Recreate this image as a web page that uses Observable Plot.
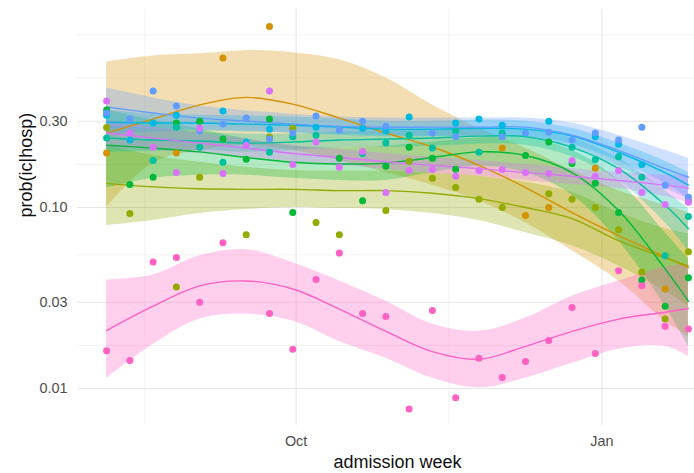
<!DOCTYPE html>
<html><head><meta charset="utf-8">
<script src="https://cdn.jsdelivr.net/npm/d3@7"></script>
<script src="https://cdn.jsdelivr.net/npm/@observablehq/plot@0.6"></script>
<style>
html,body{margin:0;padding:0;background:#fff;overflow:hidden;}
#chart{width:694px;height:473px;overflow:hidden;}
</style></head><body><div id="chart"></div>
<script>
// admission weeks (points)
const weekDates = ["2020-08-05","2020-08-12","2020-08-19","2020-08-26","2020-09-02","2020-09-09","2020-09-16","2020-09-23","2020-09-30","2020-10-07","2020-10-14","2020-10-21","2020-10-28","2020-11-04","2020-11-11","2020-11-18","2020-11-25","2020-12-02","2020-12-09","2020-12-16","2020-12-23","2020-12-30","2021-01-06","2021-01-13","2021-01-20","2021-01-27"];
// dates at which the smooth fit and its band are given
const fitDates = ["2020-08-05","2020-08-19","2020-09-02","2020-09-16","2020-09-30","2020-10-14","2020-10-28","2020-11-11","2020-11-25","2020-12-09","2020-12-23","2021-01-06","2021-01-20","2021-01-27"];

const seriesNames = ["A","B","C","D","E","F","G","H"];
const seriesColors = ["#D39200","#93AA00","#00BA38","#00C19F","#00B9E3","#619CFF","#DB72FB","#FF61C3"];

// observed weekly proportions
const ptsA = [0.2,null,null,0.2,null,0.67,null,1.0,null,null,null,null,null,null,null,null,null,0.213,0.0903,0.1,null,0.165,null,null,0.0355,null];
const ptsB = [0.277,0.0926,null,0.0364,0.147,null,0.0708,0.245,0.274,0.0826,0.0708,null,0.0962,0.18,0.145,0.129,0.111,0.1,null,0.119,0.111,0.1,0.0755,0.0441,0.0242,0.0569];
const ptsC = [0.346,0.134,0.147,0.293,0.300,0.239,0.185,0.308,0.0938,null,0.187,0.109,0.169,0.215,0.187,0.163,null,null,0.194,0.230,0.175,0.136,0.0938,0.0398,0.0285,0.0409];
const ptsD = [0.242,null,0.182,0.278,0.215,0.178,null,0.202,0.246,0.251,null,0.199,0.227,0.251,0.213,0.265,0.202,0.258,null,null,0.215,0.184,0.191,0.147,0.0541,0.0891];
const ptsE = [0.324,0.236,0.293,0.324,null,0.342,0.230,0.271,null,0.278,null,0.274,0.265,0.316,null,0.293,0.308,0.285,null,0.300,null,0.246,0.224,0.173,null,0.109];
const ptsF = [0.333,0.308,0.441,0.364,0.265,0.289,0.312,0.239,0.258,0.320,0.268,0.300,0.281,null,0.258,0.246,null,0.246,0.258,0.261,0.236,0.258,0.236,0.278,0.133,0.114];
const ptsG = [0.388,0.258,0.215,0.156,0.274,0.154,0.221,0.441,0.173,0.230,0.167,0.204,0.121,0.160,0.162,0.149,0.160,0.162,0.156,0.154,0.182,0.149,0.160,0.121,0.104,0.107];
const ptsH = [0.0162,0.0143,0.050,0.053,0.030,0.064,null,0.026,0.0165,0.040,0.056,0.026,0.025,0.0077,0.027,0.0089,0.0147,0.0115,0.0141,0.0184,0.028,0.0156,0.0447,0.037,0.0221,0.0213];

// smooth fits with lower / upper band
const fitA = [0.258,0.308,0.369,0.406,0.373,0.312,0.258,0.216,0.171,0.129,0.0938,0.0699,0.0534,0.0465];
const loA  = [0.1,0.176,0.207,0.221,0.207,0.182,0.156,0.133,0.109,0.0825,0.0577,0.0393,0.0236,0.0194];
const hiA  = [0.638,0.688,0.707,0.736,0.717,0.656,0.521,0.369,0.274,0.213,0.160,0.124,0.103,0.0938];

const fitB = [0.136,0.130,0.127,0.126,0.126,0.124,0.124,0.120,0.112,0.1,0.0869,0.0656,0.0527,0.0476];
const loB  = [0.0794,0.0847,0.0926,0.0975,0.1,0.0987,0.0975,0.0926,0.0847,0.0726,0.0615,0.0476,0.0346,0.0285];
const hiB  = [0.221,0.194,0.178,0.167,0.160,0.159,0.159,0.154,0.149,0.138,0.121,0.0938,0.0764,0.0717];

const fitC = [0.221,0.213,0.203,0.189,0.178,0.174,0.176,0.189,0.203,0.194,0.156,0.0962,0.0458,0.0304];
const loC  = [0.128,0.145,0.151,0.151,0.145,0.141,0.141,0.156,0.169,0.156,0.117,0.0656,0.0285,0.0171];
const hiC  = [0.346,0.304,0.271,0.239,0.218,0.213,0.218,0.230,0.242,0.242,0.207,0.141,0.0726,0.0521];

const fitD = [0.242,0.236,0.233,0.227,0.230,0.236,0.239,0.242,0.248,0.246,0.215,0.164,0.103,0.0764];
const loD  = [0.202,0.204,0.207,0.202,0.207,0.213,0.215,0.218,0.224,0.221,0.191,0.141,0.0825,0.0577];
const hiD  = [0.285,0.271,0.261,0.255,0.255,0.261,0.265,0.268,0.274,0.271,0.242,0.187,0.124,0.0989];

const fitE = [0.296,0.293,0.293,0.289,0.285,0.278,0.271,0.271,0.274,0.271,0.248,0.202,0.156,0.133];
const loE  = [0.255,0.261,0.265,0.261,0.258,0.251,0.246,0.246,0.248,0.246,0.224,0.180,0.136,0.112];
const hiE  = [0.346,0.328,0.324,0.320,0.316,0.308,0.300,0.300,0.304,0.300,0.274,0.227,0.180,0.156];

const fitF = [0.359,0.333,0.312,0.300,0.289,0.281,0.278,0.278,0.278,0.278,0.251,0.207,0.164,0.147];
const loF  = [0.274,0.271,0.268,0.265,0.258,0.255,0.251,0.248,0.248,0.246,0.215,0.169,0.128,0.112];
const hiF  = [0.457,0.403,0.364,0.342,0.328,0.316,0.312,0.312,0.312,0.312,0.293,0.251,0.207,0.187];

const fitG = [0.258,0.242,0.227,0.213,0.199,0.189,0.179,0.171,0.164,0.156,0.149,0.141,0.133,0.128];
const loG  = [0.213,0.207,0.199,0.189,0.179,0.171,0.162,0.154,0.149,0.141,0.134,0.128,0.115,0.106];
const hiG  = [0.304,0.278,0.258,0.239,0.221,0.209,0.199,0.189,0.182,0.173,0.164,0.156,0.151,0.151];

const fitH = [0.0209,0.0285,0.0369,0.0393,0.0355,0.0275,0.0207,0.016,0.0145,0.0171,0.0207,0.0242,0.0264,0.0277];
const loH  = [0.0114,0.0175,0.0242,0.0258,0.0236,0.0182,0.0147,0.0114,0.0101,0.0114,0.0138,0.0165,0.0171,0.0151];
const hiH  = [0.0398,0.0424,0.0541,0.0585,0.0495,0.0393,0.0304,0.0227,0.0207,0.0245,0.0324,0.0393,0.047,0.0488];

// axis breaks and titles
const yMajor = [0.01,0.03,0.1,0.3];
const yMinor = [0.0173,0.0548,0.173,0.52,0.9];
const xMajor = ["2020-10-01","2021-01-01"];
const xMinor = ["2020-08-16T12:00","2020-11-16"];
const xTitle = "admission week";
const yTitle = "prob(ic|hosp)";

const pts = [ptsA,ptsB,ptsC,ptsD,ptsE,ptsF,ptsG,ptsH];
const fits = [fitA,fitB,fitC,fitD,fitE,fitF,fitG,fitH];
const los = [loA,loB,loC,loD,loE,loF,loG,loH];
const his = [hiA,hiB,hiC,hiD,hiE,hiF,hiG,hiH];

const pointRows = [], fitRows = [];
seriesNames.forEach((s, k) => {
  pts[k].forEach((v, i) => { if (v != null) pointRows.push({date: new Date(weekDates[i]), value: v, series: s}); });
  fits[k].forEach((v, i) => fitRows.push({date: new Date(fitDates[i]), fit: v, lo: los[k][i], hi: his[k][i], series: s}));
});

const ext = d3.extent(weekDates, d => new Date(d));
const pad = (ext[1] - ext[0]) * 0.05;
const xDomain = [new Date(+ext[0] - pad), new Date(+ext[1] + pad)];

const toDate = d => new Date(d.length === 10 ? d : d + "Z");

const chart = Plot.plot({
  width: 694, height: 473,
  marginLeft: 77, marginRight: -23, marginTop: 9, marginBottom: 48,
  style: {fontFamily: "'Liberation Sans', Arial, sans-serif", background: "white", overflow: "hidden"},
  x: {type: "utc", domain: xDomain},
  y: {type: "log", domain: [0.00625, 1.242]},
  color: {domain: seriesNames, range: seriesColors},
  marks: [
    Plot.ruleY(yMinor, {stroke: "#ebebeb", strokeWidth: 0.6}),
    Plot.ruleX(xMinor.map(toDate), {stroke: "#ebebeb", strokeWidth: 0.6}),
    Plot.ruleY(yMajor, {stroke: "#e6e6e6", strokeWidth: 1.1}),
    Plot.ruleX(xMajor.map(toDate), {stroke: "#e6e6e6", strokeWidth: 1.1}),
    Plot.areaY(fitRows, {x: "date", y1: "lo", y2: "hi", z: "series", fill: "series", fillOpacity: 0.3, curve: "catmull-rom"}),
    Plot.lineY(fitRows, {x: "date", y: "fit", z: "series", stroke: "series", strokeWidth: 1.4, curve: "catmull-rom"}),
    Plot.dot(pointRows, {x: "date", y: "value", fill: "series", r: 3.5}),
    Plot.axisX(xMajor.map(toDate), {tickFormat: d3.utcFormat("%b"), tickSize: 0, tickPadding: 10, fontSize: 14.4, color: "#4d4d4d", label: null}),
    Plot.axisY(yMajor, {tickFormat: d3.format(".2f"), tickSize: 0, tickPadding: 10, fontSize: 14.4, color: "#4d4d4d", label: null}),
    Plot.text([xTitle], {frameAnchor: "bottom", lineAnchor: "bottom", dy: 42, fontSize: 18, fill: "#111"}),
    Plot.text([yTitle], {frameAnchor: "left", lineAnchor: "top", rotate: -90, dx: -58, fontSize: 18, fill: "#111"})
  ]
});
document.getElementById("chart").appendChild(chart);
</script>
</body></html>
